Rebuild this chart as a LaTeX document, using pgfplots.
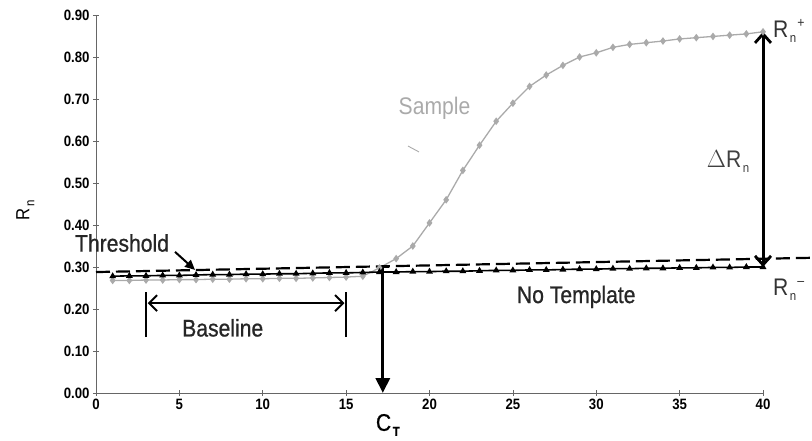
\documentclass[border=0pt]{standalone}
\usepackage{fontspec}
\setmainfont{Liberation Sans}[FakeStretch=0.88]
\newfontfamily\heavy{Liberation Sans}[FakeStretch=0.88, FakeBold=0.8]
\usepackage{pgfplots}
\pgfplotsset{compat=1.18}
\usetikzlibrary{arrows.meta}
\definecolor{samplegrey}{HTML}{AAAAAA}
\definecolor{axisgrey}{HTML}{666666}
\newcommand{\lab}{\heavy\fontsize{24bp}{28bp}\selectfont}
\newcommand{\labl}{\fontsize{24bp}{28bp}\selectfont}
\newcommand{\lsub}[1]{\kern1.5bp\raisebox{-5bp}{\fontsize{13bp}{13bp}\selectfont #1}}
\newcommand{\lsup}[1]{\kern1bp\raisebox{10bp}{\fontsize{14bp}{14bp}\selectfont #1}}
\begin{document}
\begin{tikzpicture}
\begin{axis}[
  name=ax,
  scale only axis, width=667bp, height=378bp,
  xmin=0, xmax=40, ymin=0, ymax=0.9,
  axis x line=bottom, axis y line=left,
  axis line style={axisgrey, line width=0.9bp, -},
  xtick={0,5,10,15,20,25,30,35,40},
  ytick={0,0.1,0.2,0.3,0.4,0.5,0.6,0.7,0.8,0.9},
  tick align=center, major tick length=6bp,
  tick style={axisgrey, line width=0.7bp},
  /pgf/number format/assume math mode=true,
  yticklabel style={/pgf/number format/.cd, fixed, fixed zerofill, precision=2},
  ticklabel style={font=\fontsize{15bp}{18bp}\selectfont\bfseries},
  clip=false,
]
% Sample
\addplot[samplegrey, line width=1.3bp, mark=diamond*, mark size=2.8bp, mark options={fill=samplegrey, solid}] coordinates {
(1,0.268) (2,0.268) (3,0.269) (4,0.269) (5,0.270) (6,0.270) (7,0.271) (8,0.271)
(9,0.272) (10,0.272) (11,0.273) (12,0.273) (13,0.274) (14,0.275) (15,0.276) (16,0.278)
(17,0.298) (18,0.320) (19,0.350) (20,0.405) (21,0.460) (22,0.530) (23,0.590) (24,0.647)
(25,0.690) (26,0.730) (27,0.757) (28,0.780) (29,0.800) (30,0.810) (31,0.823) (32,0.830)
(33,0.834) (34,0.838) (35,0.843) (36,0.846) (37,0.849) (38,0.852) (39,0.855) (40,0.860)};
% No Template
\addplot[black, line width=1.6bp, mark=triangle*, mark size=2.4bp] coordinates {
(1,0.278) (2,0.279) (3,0.279) (4,0.280) (5,0.280) (6,0.281) (7,0.282) (8,0.282)
(9,0.283) (10,0.283) (11,0.284) (12,0.284) (13,0.285) (14,0.286) (15,0.286) (16,0.287)
(17,0.288) (18,0.288) (19,0.289) (20,0.289) (21,0.290) (22,0.290) (23,0.291) (24,0.292)
(25,0.292) (26,0.293) (27,0.293) (28,0.294) (29,0.295) (30,0.295) (31,0.296) (32,0.296)
(33,0.297) (34,0.297) (35,0.298) (36,0.298) (37,0.299) (38,0.299) (39,0.300) (40,0.300)};
% Threshold
\addplot[black, line width=2.2bp, dash pattern=on 14bp off 6bp] coordinates {(0,0.288) (43,0.322)};

% annotations
\draw[line width=3.2bp, -{Triangle[length=15bp,width=14bp]}] (axis cs:17.2,0.30) -- (axis cs:17.2,0);
\draw[line width=2.8bp] (axis cs:16.85,0.30) -- (axis cs:17.6,0.30);
\draw[line width=3bp, {Straight Barb[length=9bp,width=16bp,line width=2.8bp]}-{Straight Barb[length=9bp,width=16bp,line width=2.8bp]}] (axis cs:40,0.30) -- (axis cs:40,0.86);
\draw[line width=2.4bp] (axis cs:3,0.133) -- (axis cs:3,0.24);
\draw[line width=2.4bp] (axis cs:15,0.133) -- (axis cs:15,0.24);
\draw[line width=2bp, {Straight Barb[length=8bp,width=16bp,line width=2bp]}-{Straight Barb[length=8bp,width=16bp,line width=2bp]}] (axis cs:3.1,0.214) -- (axis cs:14.9,0.214);
\draw[line width=2bp, -{Triangle[length=10bp,width=9bp]}] (axis cs:4.74,0.336) -- (axis cs:5.94,0.293);
\draw[samplegrey, line width=0.9bp] (axis cs:18.71,0.588) -- (axis cs:19.37,0.574);

\node[font=\lab, text=black!85] at (axis cs:1.56,0.357) {Threshold};
\node[font=\lab, text=black!85] at (axis cs:7.6,0.155) {Baseline};
\node[font=\lab, text=black!85] at (axis cs:28.8,0.229) {No Template};
\node[font=\labl, text=samplegrey] at (axis cs:20.3,0.679) {Sample};
\node[font=\labl, text=black!75] at (axis cs:37.9,0.55) {$\Delta$R\lsub{n}};
\node[font=\labl, text=black!80, anchor=west, inner sep=0pt] at (axis cs:40.6,0.862) {R\lsub{n}\lsup{+}};
\node[font=\labl, text=black!80, anchor=west, inner sep=0pt] at (axis cs:40.6,0.245) {R\lsub{n}\lsup{--}};
\node[font=\lab] at (axis cs:17.5,-0.076) {C\lsub{\bfseries T}};
\node[font=\fontsize{19bp}{22bp}\selectfont, rotate=90] at (axis description cs:-0.106,0.484) {R\lsub{n}};
\end{axis}
\pgfresetboundingbox
\path[use as bounding box] ([shift={(-96bp,-48bp)}]ax.south west) rectangle ([shift={(49bp,15bp)}]ax.north east);
\end{tikzpicture}
\end{document}
